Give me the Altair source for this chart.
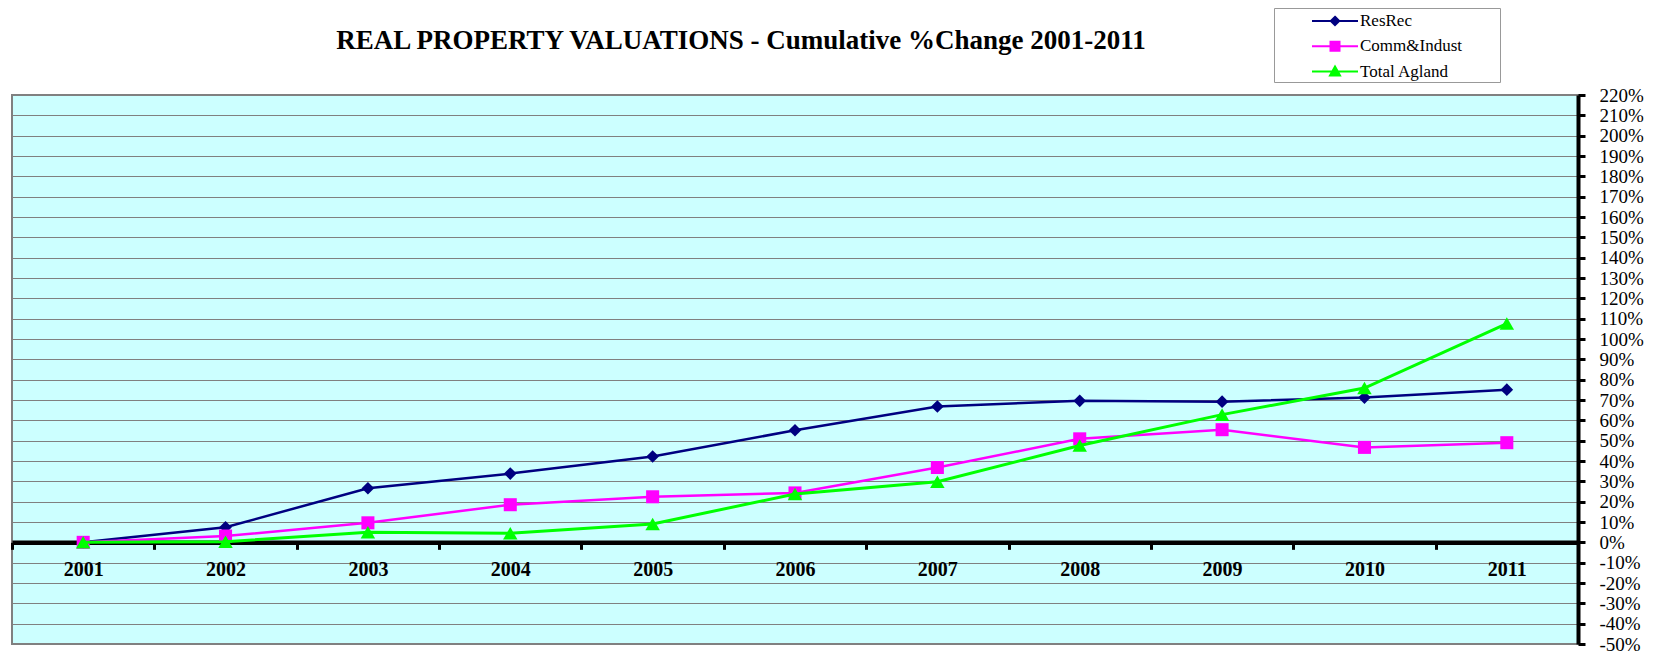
import altair as alt
import pandas as pd

years = ["2001", "2002", "2003", "2004", "2005", "2006", "2007", "2008", "2009", "2010", "2011"]
resrec = [0.0, 7.4, 26.6, 33.8, 42.2, 55.1, 66.8, 69.6, 69.2, 71.2, 75.1]
comm_indust = [0.0, 3.1, 9.6, 18.5, 22.4, 24.3, 36.8, 50.9, 55.4, 46.7, 49.0]
total_agland = [0.0, 0.3, 5.0, 4.5, 9.0, 23.8, 29.8, 47.6, 62.8, 75.9, 107.6]

series_names = ["ResRec", "Comm&Indust", "Total Agland"]
series_values = [resrec, comm_indust, total_agland]
series_colors = ["#000080", "#FF00FF", "#00FF00"]
marker_shapes = ["diamond", "square", "triangle-up"]
marker_sizes = [160, 170, 210]
line_widths = [2.5, 2.5, 3]
# legend glyphs: a short line with the marker on it (the trailing move-to only widens the legend box)
legend_paths = [
    "M-2.3,0L2.3,0M0,-0.42L0.42,0L0,0.42L-0.42,0ZM15.9,0",
    "M-2.3,0L2.3,0M-0.45,-0.45L0.45,-0.45L0.45,0.45L-0.45,0.45ZM15.9,0",
    "M-2.3,0L2.3,0M0,-0.5L0.5,0.4L-0.5,0.4ZM15.9,0",
]
y_ticks = list(range(-50, 230, 10))
title_text = "REAL PROPERTY VALUATIONS - Cumulative %Change 2001-2011"

rows = []
for name, vals in zip(series_names, series_values):
    for yr, v in zip(years, vals):
        rows.append({"year": yr, "value": v, "series": name})
df = pd.DataFrame(rows)

W, H = 1566, 549
y_min, y_max = -50, 220
zero_offset = -(H * (0 - y_min) / (y_max - y_min))

x_enc = alt.X(
    "year:O",
    scale=alt.Scale(type="band", domain=years, paddingInner=0, paddingOuter=0),
    bandPosition=0.5,
    axis=alt.Axis(
        title=None, orient="bottom", offset=zero_offset,
        domainColor="black", domainWidth=4.5,
        tickColor="black", tickWidth=3, tickSize=7, tickBand="extent",
        labelFont="Liberation Serif", labelFontSize=20, labelFontWeight="bold",
        labelColor="black", labelPadding=10, labelAngle=0, labelBaseline="top",
        grid=False,
    ),
)
y_enc = alt.Y(
    "value:Q",
    scale=alt.Scale(domain=[y_min, y_max], nice=False, zero=False),
    axis=alt.Axis(
        title=None, orient="right", values=y_ticks,
        labelExpr="datum.value + '%'",
        domainColor="black", domainWidth=4,
        tickColor="black", tickWidth=3, tickSize=7,
        labelFont="Liberation Serif", labelFontSize=19, labelColor="black",
        labelPadding=14, labelAlign="left", labelOverlap=False,
        grid=True, gridColor="#808080", gridWidth=1,
    ),
)
color_scale = alt.Scale(domain=series_names, range=series_colors)

legend_def = alt.Legend(
    title=None, orient="none", legendX=1262, legendY=-87,
    fillColor="white", strokeColor="#999999", padding=2, rowPadding=5.3,
    symbolSize=400, symbolOffset=48, labelOffset=14, symbolStrokeWidth=2,
    symbolOpacity=1,
    labelFont="Liberation Serif", labelFontSize=17, labelColor="black",
    labelLimit=400,
)

base = alt.Chart(df)
layers = []
for i, (name, col, shp, sz, lw) in enumerate(zip(series_names, series_colors, marker_shapes, marker_sizes, line_widths)):
    sub = base.transform_filter(alt.datum.series == name)
    layers.append(
        sub.mark_line(strokeWidth=lw, opacity=1).encode(
            x=x_enc, y=y_enc,
            color=alt.Color("series:N", scale=color_scale, legend=legend_def if i == 0 else None),
        )
    )
    layers.append(
        sub.mark_point(shape=shp, size=sz, filled=True, opacity=1).encode(
            x=x_enc, y=y_enc,
            color=alt.Color("series:N", scale=color_scale, legend=None),
        )
    )

legend_layer = base.mark_point(filled=True, opacity=0, strokeWidth=2).encode(
    x=x_enc, y=y_enc,
    fill=alt.Fill("series:N", scale=alt.Scale(domain=series_names, range=series_colors), legend=legend_def),
    stroke=alt.Stroke("series:N", scale=alt.Scale(domain=series_names, range=series_colors), legend=legend_def),
    shape=alt.Shape("series:N", scale=alt.Scale(domain=series_names, range=legend_paths), legend=legend_def),
)
layers.append(legend_layer)

chart = alt.layer(*layers).properties(
    width=W, height=H,
    title=alt.TitleParams(
        title_text, font="Liberation Serif", fontSize=27, fontWeight="bold",
        color="black", anchor="middle", frame="group", dx=-54, dy=51,
    ),
    autosize=alt.AutoSizeParams(type="none"),
    padding={"left": 4, "top": 87, "right": 67, "bottom": 11},
).configure(
    font="Liberation Serif",
).configure_view(
    fill="#CCFFFF", stroke="#808080", strokeWidth=2,
)

chart.save("out.html", embed_options={"renderer": "svg", "actions": False})
